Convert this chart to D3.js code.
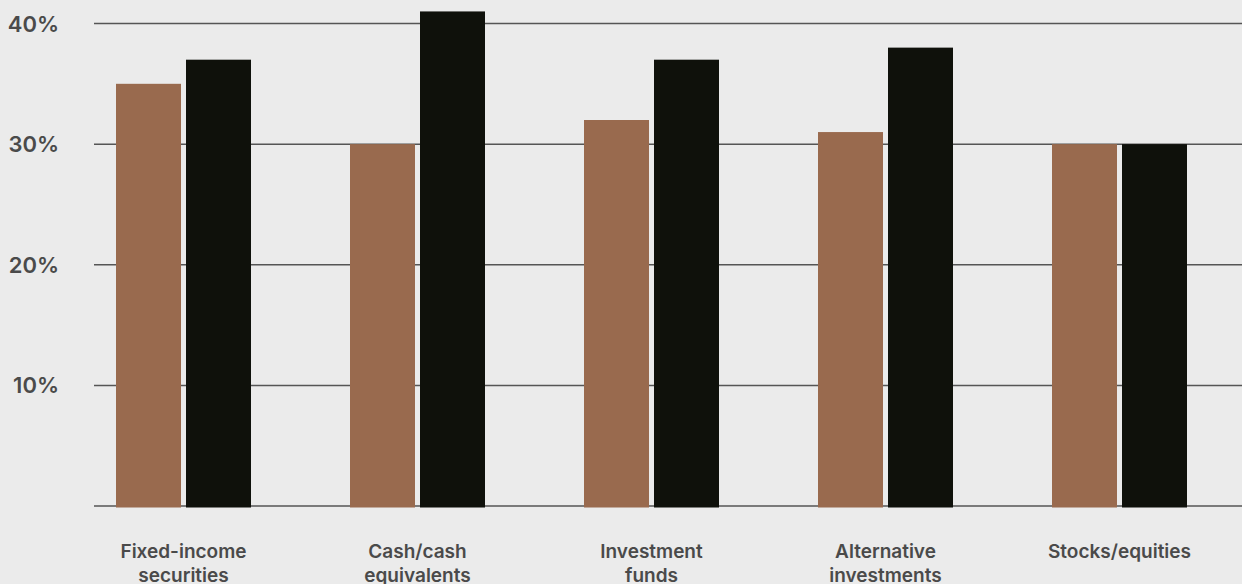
<!DOCTYPE html>
<html>
<head>
<meta charset="utf-8">
<script src="https://cdn.jsdelivr.net/npm/d3@7"></script>
<style>
  html, body { margin: 0; padding: 0; background: #ebebeb; }
  svg { display: block; }
  text { font-family: Inter, "Noto Sans", sans-serif; font-weight: 600; fill: #4a4a4a; }
</style>
</head>
<body>
<svg id="chart" width="1242" height="584"></svg>
<script>
const categories = [
  ["Fixed-income", "securities"],
  ["Cash/cash", "equivalents"],
  ["Investment", "funds"],
  ["Alternative", "investments"],
  ["Stocks/equities"]
];
const seriesA = [0.35, 0.30, 0.32, 0.31, 0.30];
const seriesB = [0.37, 0.41, 0.37, 0.38, 0.30];
const yTicks = [0, 0.1, 0.2, 0.3, 0.4];
const yTickLabels = ["", "10%", "20%", "30%", "40%"];
const seriesNames = ["a", "b"];
const colors = ["#996a4e", "#0f110b"];

const W = 1242, H = 584;
const svg = d3.select("#chart");
const keys = categories.map((c, i) => i);

const pin = 1 - 135 / 234;
const x0 = d3.scaleBand().domain(keys).range([66.5, 1236.5]).paddingInner(pin).paddingOuter(pin / 2);
const x1 = d3.scaleBand().domain(seriesNames).range([0, x0.bandwidth()]).paddingInner(1 / 14);
const y = d3.scaleLinear().domain([0, 0.4]).range([506, 23.5]);

// gridlines
svg.append("g").selectAll("line").data(yTicks).join("line")
  .attr("x1", 94).attr("x2", W)
  .attr("y1", d => y(d)).attr("y2", d => y(d))
  .attr("stroke", "#555").attr("stroke-width", 1.5);

// y labels
svg.append("g").selectAll("text").data(yTicks).join("text")
  .attr("x", 59).attr("y", d => y(d) + 8)
  .attr("text-anchor", "end")
  .style("font-size", "22px")
  .text((d, i) => yTickLabels[i]);

// bars
const groups = svg.append("g").selectAll("g").data(keys).join("g")
  .attr("transform", d => `translate(${x0(d)},0)`);
groups.selectAll("rect")
  .data(d => [{k: "a", v: seriesA[d]}, {k: "b", v: seriesB[d]}])
  .join("rect")
  .attr("x", d => x1(d.k))
  .attr("width", x1.bandwidth())
  .attr("y", d => y(d.v))
  .attr("height", d => y(0) + 1.5 - y(d.v))
  .attr("fill", d => colors[seriesNames.indexOf(d.k)]);

// x labels
const lbl = svg.append("g").selectAll("text").data(keys).join("text")
  .attr("text-anchor", "middle")
  .attr("x", d => x0(d) + x0.bandwidth() / 2)
  .attr("y", 558)
  .style("font-size", "19px");
lbl.selectAll("tspan").data(d => categories[d].map((t, j) => ({t, j, c: d}))).join("tspan")
  .attr("x", d => x0(d.c) + x0.bandwidth() / 2)
  .attr("dy", d => d.j === 0 ? 0 : 24)
  .text(d => d.t);
</script>
</body>
</html>
